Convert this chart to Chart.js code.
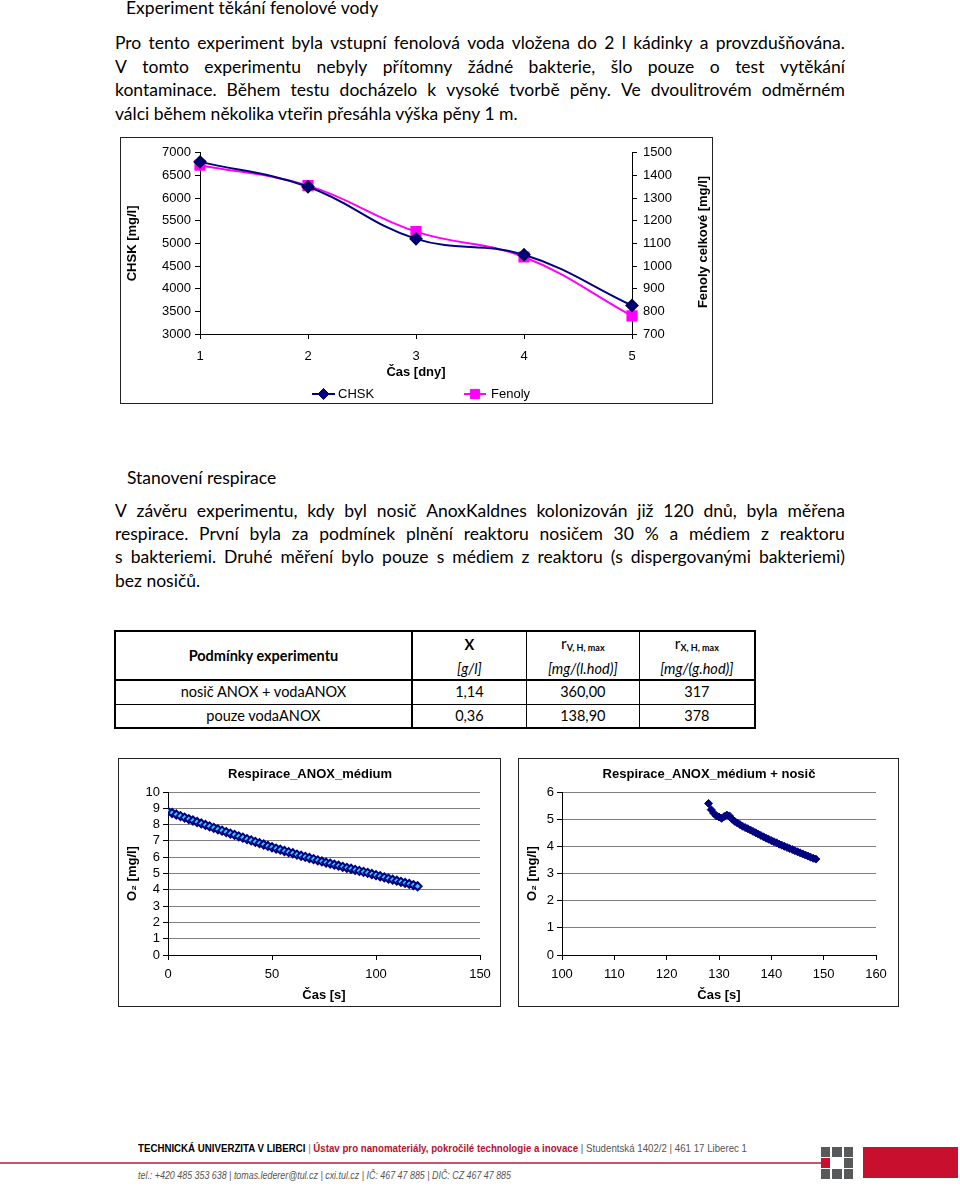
<!DOCTYPE html>
<html><head><meta charset="utf-8">
<script src="https://cdn.jsdelivr.net/npm/chart.js@4.4.1/dist/chart.umd.min.js"></script>
<style>
html,body{margin:0;padding:0;background:#fff;}
body{width:960px;height:1186px;position:relative;overflow:hidden;font-family:Lato,"Open Sans",sans-serif;color:#000;}
.t{position:absolute;white-space:nowrap;font-size:17.5px;line-height:23.4px;}
.j{position:absolute;left:115px;width:730px;font-size:17.5px;line-height:23.4px;display:flex;justify-content:space-between;white-space:nowrap;}
.box{position:absolute;border:1px solid #222;box-sizing:border-box;}
canvas{position:absolute;}
#tbl{position:absolute;left:114px;top:630px;width:642px;border-collapse:collapse;font-size:14.5px;font-family:Lato,sans-serif;}
#tbl td{padding:0;text-align:center;border:1px solid #000;line-height:16px;}
#tbl sub{font-size:9px;font-weight:bold;vertical-align:-2px;}
.ft{position:absolute;white-space:nowrap;font-family:"Liberation Sans Narrow","Liberation Sans",Arial,sans-serif;transform-origin:0 50%;}
.sq{position:absolute;width:9.5px;height:9.5px;background:#58595b;}
</style></head><body>

<div class="t" style="left:126px;top:-4px;">Experiment těkání fenolové vody</div>
<div id="p1"></div>
<div class="t" style="left:127px;top:466px;">Stanovení respirace</div>
<div id="p2"></div>

<div class="box" style="left:120px;top:137px;width:593px;height:267px;"></div>
<canvas id="c1" width="590" height="263" style="left:121px;top:139px;"></canvas>

<table id="tbl"></table>

<div class="box" style="left:118px;top:758px;width:383px;height:249px;"></div>
<canvas id="c2" width="380" height="246" style="left:119px;top:759px;"></canvas>
<div class="box" style="left:518px;top:758px;width:381px;height:249px;"></div>
<canvas id="c3" width="378" height="246" style="left:519px;top:759px;"></canvas>

<div id="f1" class="ft" style="left:138px;top:1142px;font-size:11px;"><b>TECHNICKÁ UNIVERZITA V LIBERCI</b> <span style="color:#777">|</span> <b style="color:#b5122e">Ústav pro nanomateriály, pokročilé technologie a inovace</b> <span style="color:#555">| Studentská 1402/2 | 461 17 Liberec 1</span></div>
<div style="position:absolute;left:0;top:1162px;width:822px;height:1.5px;background:#c4566e;"></div>
<div id="f2" class="ft" style="left:138px;top:1169px;font-size:11px;font-style:italic;color:#555;">tel.: +420 485 353 638 | tomas.lederer@tul.cz | cxi.tul.cz | IČ: 467 47 885 | DIČ: CZ 467 47 885</div>
<div id="logo"></div>
<div style="position:absolute;left:863px;top:1147px;width:95px;height:31px;background:#c8102e;"></div>

<script>
// ---------- text ----------
const para1 = [
  "Pro tento experiment byla vstupní fenolová voda vložena do 2 l kádinky a provzdušňována.",
  "V tomto experimentu nebyly přítomny žádné bakterie, šlo pouze o test vytěkání",
  "kontaminace. Během testu docházelo k vysoké tvorbě pěny. Ve dvoulitrovém odměrném",
  "válci během několika vteřin přesáhla výška pěny 1 m."
];
const para2 = [
  "V závěru experimentu, kdy byl nosič AnoxKaldnes kolonizován již 120 dnů, byla měřena",
  "respirace. První byla za podmínek plnění reaktoru nosičem 30 % a médiem z reaktoru",
  "s bakteriemi. Druhé měření bylo pouze s médiem z reaktoru (s dispergovanými bakteriemi)",
  "bez nosičů."
];

// ---------- chart data ----------
const days = ['1', '2', '3', '4', '5'];
const chsk = [6800, 6250, 5100, 4750, 3630];
const fenoly = [1445, 1355, 1152, 1040, 780];

const timeMedium = [0,2,4,6,8,10,12,14,16,18,20,22,24,26,28,30,32,34,36,38,40,42,44,46,48,50,52,54,56,58,60,62,64,66,68,70,72,74,76,78,80,82,84,86,88,90,92,94,96,98,100,102,104,106,108,110,112,114,116,118,120];
const o2Medium = [8.80,8.71,8.62,8.52,8.43,8.34,8.25,8.16,8.07,7.98,7.89,7.80,7.71,7.63,7.54,7.45,7.37,7.28,7.20,7.11,7.03,6.94,6.86,6.78,6.69,6.61,6.53,6.46,6.38,6.31,6.24,6.16,6.09,6.02,5.95,5.88,5.81,5.74,5.67,5.61,5.54,5.48,5.41,5.35,5.29,5.22,5.16,5.10,5.04,4.97,4.90,4.83,4.76,4.69,4.62,4.56,4.49,4.42,4.36,4.29,4.22];

const timeNosic = [128.0,128.5,129.0,129.5,130.0,130.5,131.0,131.5,132.0,132.5,133.0,133.5,134.0,134.5,135.0,135.5,136.0,136.5,137.0,137.5,138.0,138.5,139.0,139.5,140.0,140.5,141.0,141.5,142.0,142.5,143.0,143.5,144.0,144.5,145.0,145.5,146.0,146.5,147.0,147.5,148.0,148.5];
const o2Nosic = [5.58,5.35,5.22,5.12,5.08,5.03,5.10,5.15,5.12,5.00,4.92,4.86,4.80,4.74,4.69,4.65,4.60,4.55,4.50,4.45,4.40,4.35,4.30,4.26,4.21,4.17,4.13,4.08,4.04,4.00,3.96,3.92,3.88,3.84,3.80,3.76,3.72,3.68,3.64,3.60,3.56,3.53];

// ---------- table data ----------
const tblConditions = ['nosič ANOX + vodaANOX', 'pouze vodaANOX'];
const tblX = ['1,14', '0,36'];
const tblRV = ['360,00', '138,90'];
const tblRX = ['317', '378'];

// ---------- paragraphs ----------
function buildPara(id, lines, top) {
  const host = document.getElementById(id);
  lines.forEach((ln, i) => {
    const d = document.createElement('div');
    const y = top + i * 23.4;
    if (i === lines.length - 1) {
      d.className = 't'; d.style.left = '115px'; d.style.top = y + 'px'; d.textContent = ln;
    } else {
      d.className = 'j'; d.style.top = y + 'px';
      ln.split(' ').forEach(w => { const s = document.createElement('span'); s.textContent = w; d.appendChild(s); });
    }
    host.appendChild(d);
  });
}
buildPara('p1', para1, 31.3);
buildPara('p2', para2, 498.5);

// ---------- table ----------
(function(){
  const t = document.getElementById('tbl');
  const W = [298, 115, 113, 116];
  let h = '<colgroup>' + W.map(w => '<col style="width:' + w + 'px">').join('') + '</colgroup>';
  h += '<tr style="height:27px"><td rowspan="2" style="font-weight:bold;border:2px solid #000;">Podmínky experimentu</td>' +
       '<td style="font-weight:bold;border-top:2px solid #000;border-bottom:none;border-left:2px solid #000;">X</td>' +
       '<td style="border-top:2px solid #000;border-bottom:none;font-size:15.5px;">r<sub>V, H, max</sub></td>' +
       '<td style="border-top:2px solid #000;border-bottom:none;border-right:2px solid #000;font-size:15.5px;">r<sub>X, H, max</sub></td></tr>';
  h += '<tr style="height:22px"><td style="border-top:none;border-left:2px solid #000;border-bottom:2px solid #000;"><i>[g/l]</i></td>' +
       '<td style="border-top:none;border-bottom:2px solid #000;"><i>[mg/(l.hod)]</i></td>' +
       '<td style="border-top:none;border-right:2px solid #000;border-bottom:2px solid #000;"><i>[mg/(g.hod)]</i></td></tr>';
  tblConditions.forEach((c, i) => {
    const last = i === tblConditions.length - 1;
    const bb = last ? 'border-bottom:2px solid #000;' : '';
    h += '<tr style="height:24px"><td style="border-left:2px solid #000;border-right:2px solid #000;' + bb + '">' + c + '</td>' +
         '<td style="' + bb + '">' + tblX[i] + '</td><td style="' + bb + '">' + tblRV[i] + '</td>' +
         '<td style="border-right:2px solid #000;' + bb + '">' + tblRX[i] + '</td></tr>';
  });
  t.innerHTML = h;
})();

// ---------- footer ----------
function fitWidth(id, w) {
  const el = document.getElementById(id);
  const m = el.getBoundingClientRect().width;
  el.style.transform = 'scaleX(' + (w / m) + ')';
}
fitWidth('f1', 609);
fitWidth('f2', 373);
(function(){
  const lg = document.getElementById('logo');
  const xs = [820.5, 832, 843.5], ys = [1147, 1158, 1169];
  ys.forEach((y, r) => xs.forEach((x, c) => {
    if (r === 1 && c === 1) return;
    const d = document.createElement('div'); d.className = 'sq';
    d.style.left = x + 'px'; d.style.top = y + 'px';
    if (r === 1 && c === 0) d.style.background = '#c8102e';
    lg.appendChild(d);
  }));
})();

// ---------- charts ----------
const FF = "'Liberation Sans', Arial, sans-serif";
Chart.defaults.font.family = FF;
Chart.defaults.color = '#000';
const plain = v => String(v);

const textPlugin = {
  id: 'texts',
  afterDraw(chart, args, opts) {
    const ctx = chart.ctx;
    (opts.items || []).forEach(it => {
      ctx.save();
      ctx.font = it.font; ctx.fillStyle = it.color || '#000';
      ctx.textAlign = it.align || 'center'; ctx.textBaseline = 'middle';
      ctx.translate(it.x, it.y); if (it.rot) ctx.rotate(it.rot);
      ctx.fillText(it.text, 0, 0);
      ctx.restore();
    });
    (opts.legend || []).forEach(lg => {
      const ds = chart.data.datasets[lg.ds];
      ctx.save();
      ctx.strokeStyle = ds.borderColor; ctx.lineWidth = ds.borderWidth;
      ctx.beginPath(); ctx.moveTo(lg.x1, lg.y); ctx.lineTo(lg.x2, lg.y); ctx.stroke();
      ctx.fillStyle = ds.pointBackgroundColor || ds.backgroundColor;
      ctx.strokeStyle = ds.pointBorderColor || ds.borderColor; ctx.lineWidth = 1;
      Chart.helpers.drawPoint(ctx, {pointStyle: ds.pointStyle, radius: ds.pointRadius, borderWidth: 1, rotation: 0}, (lg.x1 + lg.x2) / 2, lg.y);
      ctx.fillStyle = '#000'; ctx.font = '13px ' + FF; ctx.textAlign = 'left'; ctx.textBaseline = 'middle';
      ctx.fillText(ds.label, lg.tx, lg.y);
      ctx.restore();
    });
  }
};

const tickFont = {size: 13, family: FF};
const titleFont = {size: 13, weight: 'bold', family: FF};

new Chart(document.getElementById('c1'), {
  type: 'line',
  plugins: [textPlugin],
  data: {
    labels: days,
    datasets: [
      {label: 'CHSK', data: chsk, yAxisID: 'y', borderColor: '#000080', backgroundColor: '#000080',
       pointBackgroundColor: '#000080', pointBorderColor: '#000050', borderWidth: 2,
       pointStyle: 'rectRot', pointRadius: 5.5, pointHoverRadius: 5.5, tension: 0.4},
      {label: 'Fenoly', data: fenoly, yAxisID: 'y1', borderColor: '#ff00ff', backgroundColor: '#ff00ff',
       pointBackgroundColor: '#ff00ff', pointBorderColor: '#ff00ff', borderWidth: 2,
       pointStyle: 'rect', pointRadius: 6.5, pointHoverRadius: 6.5, tension: 0.4}
    ]
  },
  options: {
    responsive: false, animation: false,
    layout: {padding: {left: 0, right: 0, top: 11, bottom: 22}},
    plugins: {
      legend: {display: false}, tooltip: {enabled: false},
      texts: {
        items: [{text: 'Fenoly celkové [mg/l]', x: 582, y: 103, rot: -Math.PI / 2, font: 'bold 13px ' + FF}],
        legend: [{ds: 0, x1: 191, x2: 214, y: 255, tx: 217}, {ds: 1, x1: 343, x2: 365, y: 255, tx: 370}]
      }
    },
    scales: {
      x: {type: 'category', offset: false,
          grid: {drawOnChartArea: false, drawTicks: true, tickLength: 5, tickColor: '#000'},
          border: {color: '#000', width: 1},
          ticks: {color: '#000', font: tickFont, padding: 10, maxRotation: 0},
          title: {display: true, text: 'Čas [dny]', color: '#000', font: titleFont, padding: 0},
          afterFit(s) { s.height = 46; }},
      y: {position: 'left', min: 3000, max: 7000,
          grid: {drawOnChartArea: false, drawTicks: true, tickLength: 5, tickColor: '#000'},
          border: {color: '#000', width: 1},
          ticks: {stepSize: 500, color: '#000', font: tickFont, padding: 4, autoSkip: false, callback: plain},
          title: {display: true, text: 'CHSK [mg/l]', color: '#000', font: titleFont, padding: {top: 4, bottom: 0}},
          afterFit(s) { s.width = 79; }},
      y1: {position: 'right', min: 700, max: 1500,
          grid: {drawOnChartArea: false, drawTicks: true, tickLength: 5, tickColor: '#000'},
          border: {color: '#000', width: 1},
          ticks: {stepSize: 100, color: '#000', font: tickFont, padding: 6, autoSkip: false, callback: plain},
          afterFit(s) { s.width = 79; }}
    }
  }
});

function respChart(id, title, titleX, xs, ys, xMin, xMax, xStep, yMax, fill, bw, padRight, yWidth) {
  return new Chart(document.getElementById(id), {
    type: 'scatter',
    plugins: [textPlugin],
    data: {datasets: [{label: title, data: xs.map((x, i) => ({x: x, y: ys[i]})),
      pointStyle: 'rectRot', pointRadius: 4, pointHoverRadius: 4,
      pointBackgroundColor: fill, pointBorderColor: '#000080', pointBorderWidth: bw, showLine: false}]},
    options: {
      responsive: false, animation: false,
      layout: {padding: {left: 0, right: padRight, top: 33, bottom: 2}},
      plugins: {legend: {display: false}, tooltip: {enabled: false},
        texts: {items: [{text: title, x: titleX, y: 15.5, font: 'bold 13px ' + FF}]}},
      scales: {
        x: {type: 'linear', min: xMin, max: xMax,
            grid: {drawOnChartArea: false, drawTicks: true, tickLength: 5, tickColor: '#000'},
            border: {color: '#000', width: 1},
            ticks: {stepSize: xStep, color: '#000', font: tickFont, padding: 7, maxRotation: 0, autoSkip: false, callback: plain},
            title: {display: true, text: 'Čas [s]', color: '#000', font: titleFont, padding: 0},
            afterFit(s) { s.height = 48; }},
        y: {type: 'linear', min: 0, max: yMax,
            grid: {color: '#7f7f7f', lineWidth: 1, drawTicks: true, tickLength: 5, tickColor: '#000'},
            border: {color: '#000', width: 1},
            ticks: {stepSize: 1, color: '#000', font: tickFont, padding: 3, autoSkip: false, callback: plain},
            title: {display: true, text: 'O₂ [mg/l]', color: '#000', font: titleFont, padding: {top: 6, bottom: 0}},
            afterFit(s) { s.width = yWidth; }}
      }
    }
  });
}
respChart('c2', 'Respirace_ANOX_médium', 191, timeMedium, o2Medium, 0, 150, 50, 10, '#33ccff', 2, 19, 49);
respChart('c3', 'Respirace_ANOX_médium + nosič', 190, timeNosic, o2Nosic, 100, 160, 10, 6, '#000080', 1, 21, 43);
</script>
</body></html>
